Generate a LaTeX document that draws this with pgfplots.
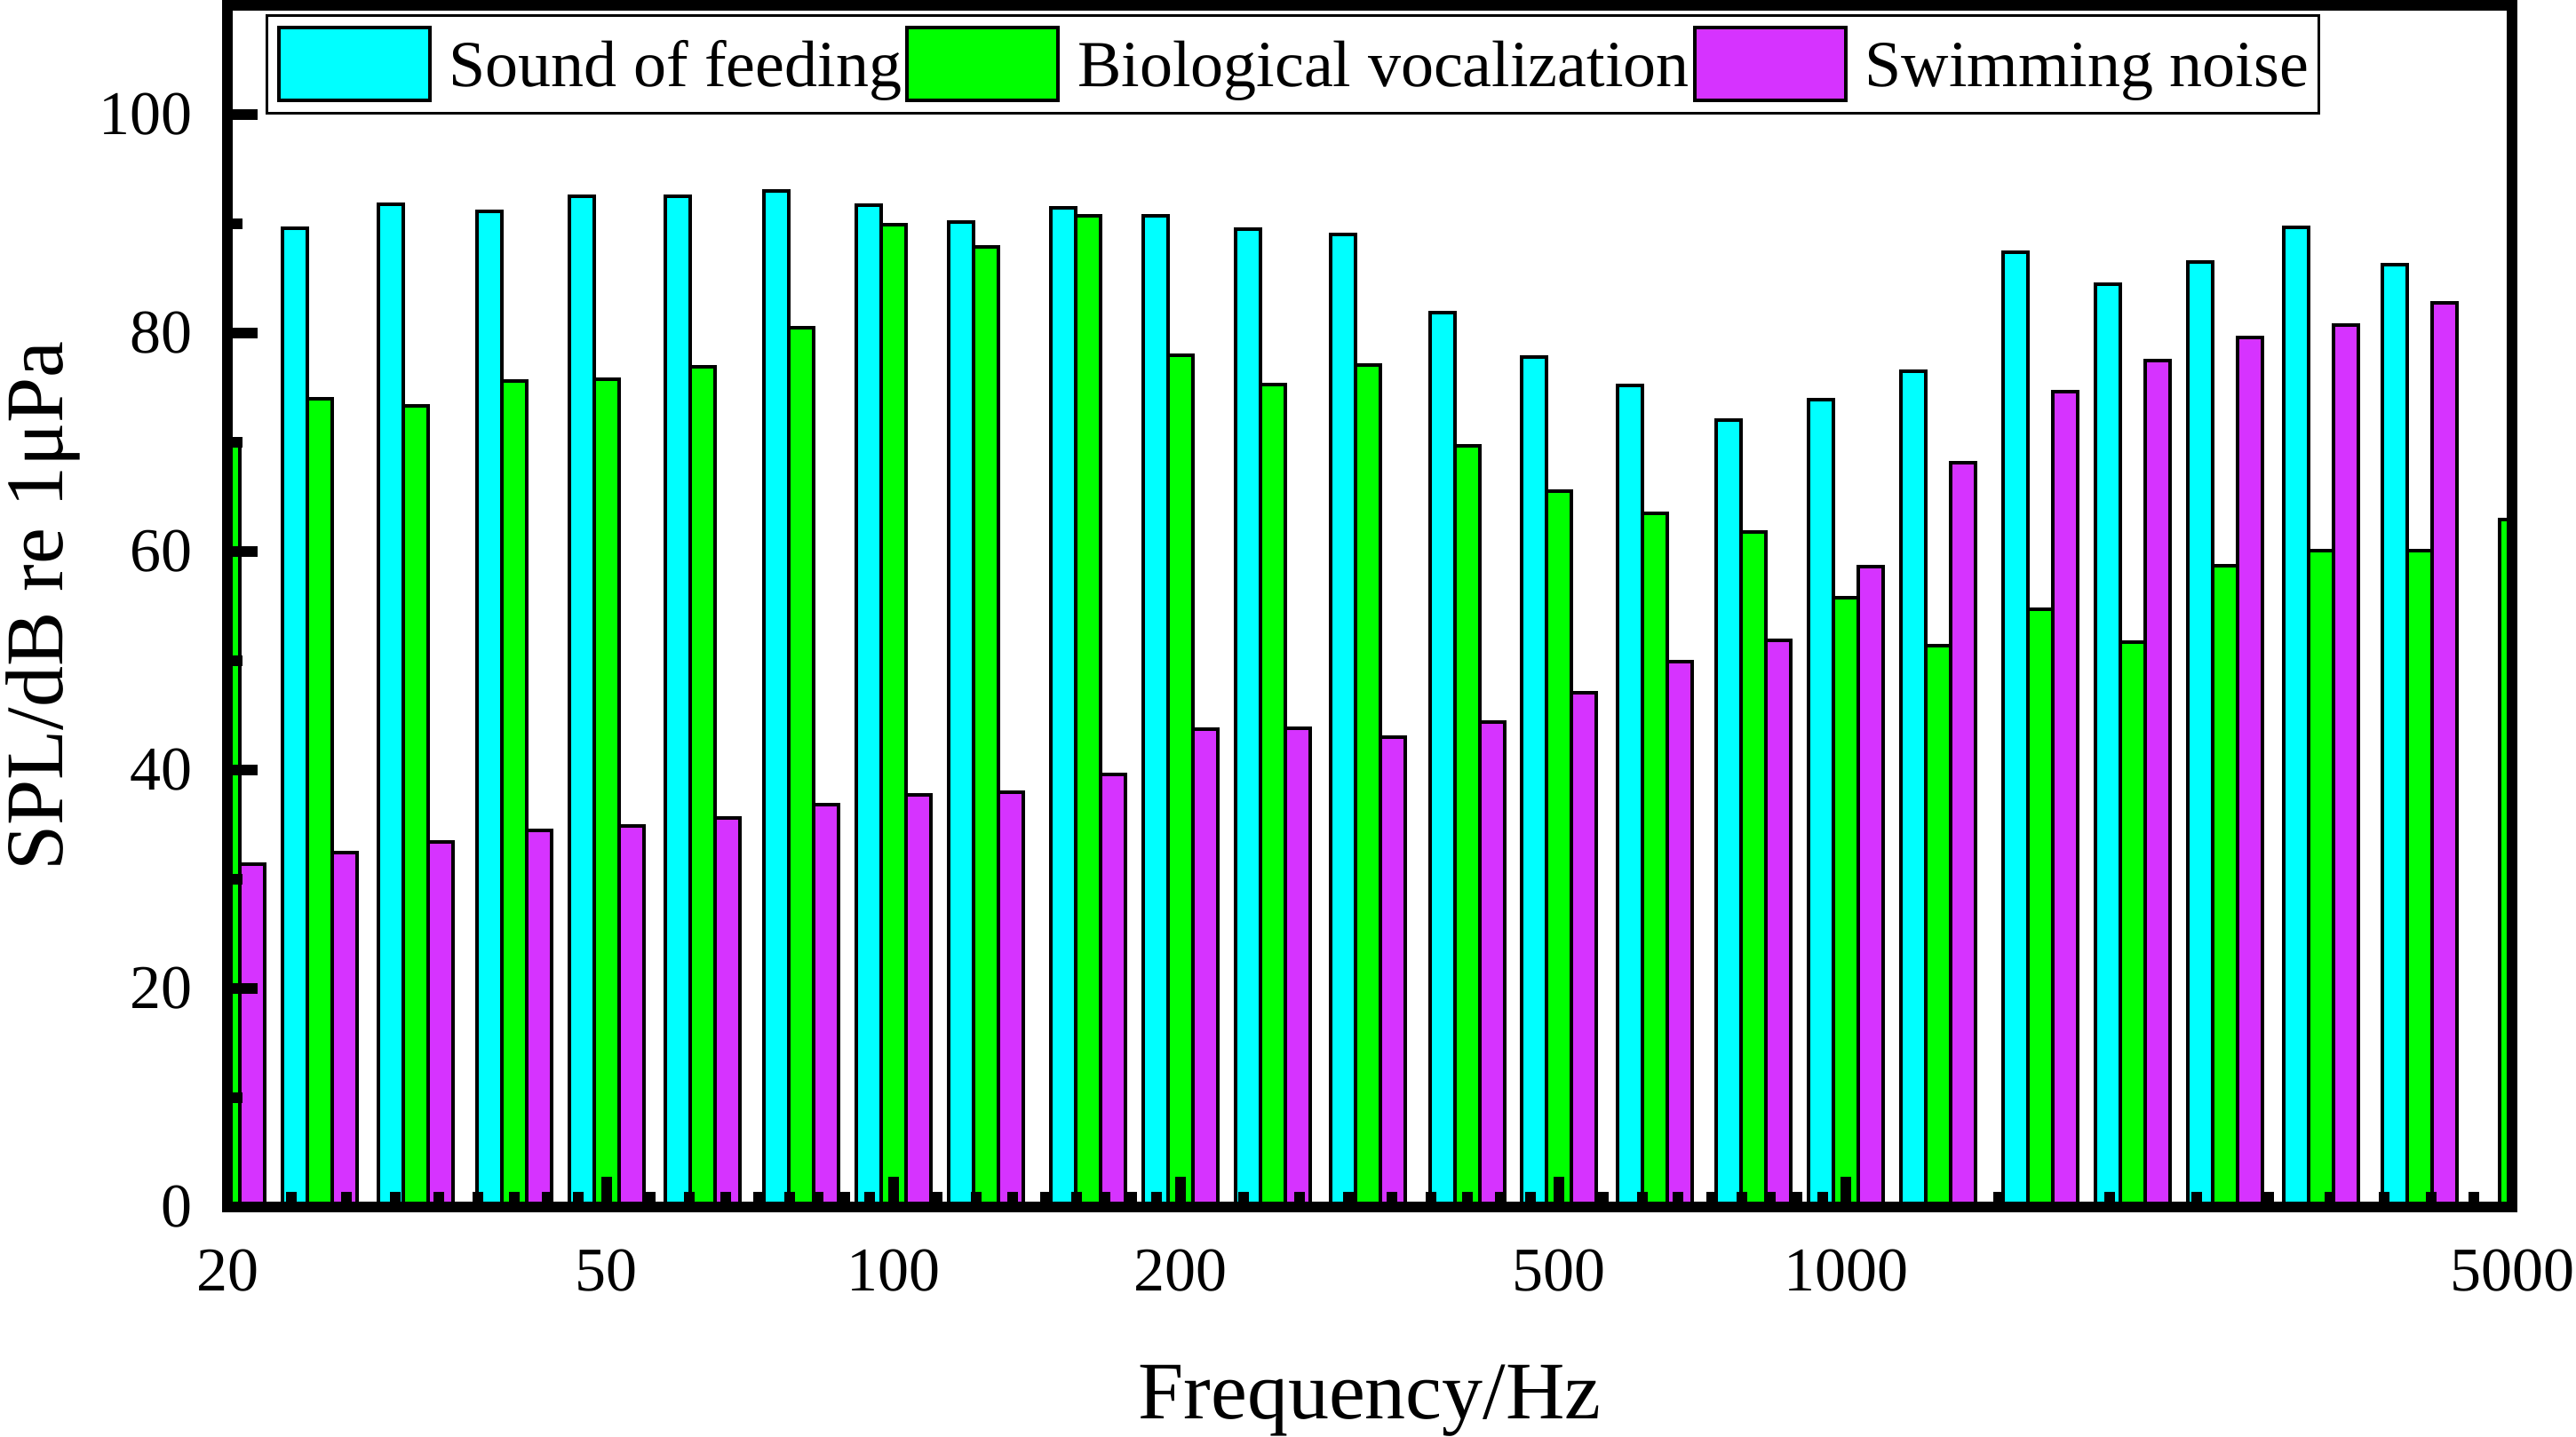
\documentclass[border=0pt]{standalone}
\usepackage{fontspec}
\setmainfont{Liberation Serif}
\usepackage{pgfplots}
\pgfplotsset{compat=1.18}
\definecolor{cfeed}{RGB}{0,255,255}
\definecolor{cvoc}{RGB}{0,255,0}
\definecolor{cswim}{RGB}{214,51,255}
\pgfplotsset{legimg/.style={legend image code/.code={\draw[##1] (0bp,-4bp) rectangle (42.5bp,16.5bp);}}}
\begin{document}
\begin{tikzpicture}
\begin{axis}[
  scale only axis, width=643bp, height=338.25bp,
  xmode=log, xmin=20, xmax=5000, ymin=0, ymax=110,
  axis on top,
  ybar, bar width=7bp,
  xtick={20,50,100,200,500,1000,5000},
  xticklabels={20,50,100,200,500,1000,5000},
  minor xtick={23.333,26.667,30,33.333,36.667,40,43.333,46.667,
    55.556,61.111,66.667,72.222,77.778,83.333,88.889,94.444,
    111.11,122.22,133.33,144.44,155.56,166.67,177.78,188.89,
    233.33,266.67,300,333.33,366.67,400,433.33,466.67,
    555.56,611.11,666.67,722.22,777.78,833.33,888.89,944.44,
    1444.4,1888.9,2333.3,2777.8,3222.2,3666.7,4111.1,4555.6},
  ytick={0,20,40,60,80,100},
  minor ytick={10,30,50,70,90},
  xtick pos=left, ytick pos=left,
  tick align=inside,
  major tick length=8.5bp, minor tick length=4.25bp,
  tick style={line width=3bp, black},
  axis line style={line width=3bp},
  /pgf/number format/assume math mode=true,
  ticklabel style={font=\fontsize{17.5bp}{17.5bp}\selectfont},
  xticklabel style={anchor=base, yshift=-23.5bp, inner sep=0pt},
  yticklabel style={anchor=east, xshift=-9.75bp, inner sep=0pt},
  xlabel={Frequency/Hz},
  ylabel={SPL/dB re 1μPa},
  xlabel style={at={(axis description cs:0.5,0)}, anchor=base, yshift=-59.5bp, inner sep=0pt, font=\fontsize{23bp}{23bp}\selectfont},
  ylabel style={at={(axis description cs:-0.0723,0.5)}, anchor=base, inner sep=0pt, font=\fontsize{23bp}{23bp}\selectfont},
  legend columns=3,
  legend style={at={(axis description cs:0,1)}, anchor=north west, xshift=10.75bp, yshift=-2.5bp,
    draw=black, line width=0.75bp, inner xsep=2.75bp, inner ysep=3bp,
    font=\fontsize{18.5bp}{18.5bp}\selectfont,
    cells={anchor=base west}, nodes={inner sep=0pt},
    /tikz/every odd column/.append style={column sep=5bp},
    /tikz/every even column/.append style={column sep=1bp}},
]
\addplot[fill=cfeed, draw=black, line width=1bp, bar shift=-7bp, legimg] coordinates {
(25,89.6)(31.5,91.8)(40,91.1)(50,92.5)(63,92.5)(80,93.0)(100,91.7)(125,90.2)
(160,91.5)(200,90.7)(250,89.5)(315,89.0)(400,81.9)(500,77.8)(630,75.2)(800,72.0)
(1000,73.9)(1250,76.5)(1600,87.4)(2000,84.5)(2500,86.5)(3150,89.7)(4000,86.3)};
\addlegendentry{Sound of feeding}
\addplot[fill=cvoc, draw=black, line width=1bp, bar shift=0bp, legimg] coordinates {
(20,69.8)(25,74.0)(31.5,73.3)(40,75.6)(50,75.8)(63,76.9)(80,80.5)(100,89.9)(125,87.9)
(160,90.7)(200,78.0)(250,75.3)(315,77.1)(400,69.7)(500,65.5)(630,63.5)(800,61.8)
(1000,55.8)(1250,51.4)(1600,54.7)(2000,51.7)(2500,58.7)(3150,60.1)(4000,60.1)(5000,62.9)};
\addlegendentry{Biological vocalization}
\addplot[fill=cswim, draw=black, line width=1bp, bar shift=7bp, legimg] coordinates {
(20,31.4)(25,32.4)(31.5,33.4)(40,34.5)(50,34.9)(63,35.6)(80,36.8)(100,37.7)(125,38.0)
(160,39.6)(200,43.7)(250,43.8)(315,43.0)(400,44.4)(500,47.1)(630,49.9)(800,51.9)
(1000,58.6)(1250,68.1)(1600,74.6)(2000,77.5)(2500,79.6)(3150,80.7)(4000,82.8)};
\addlegendentry{Swimming noise}
\end{axis}
\pgfresetboundingbox
\path[use as bounding box] (-64bp,-64.75bp) rectangle (661bp,339.75bp);
\end{tikzpicture}
\end{document}
